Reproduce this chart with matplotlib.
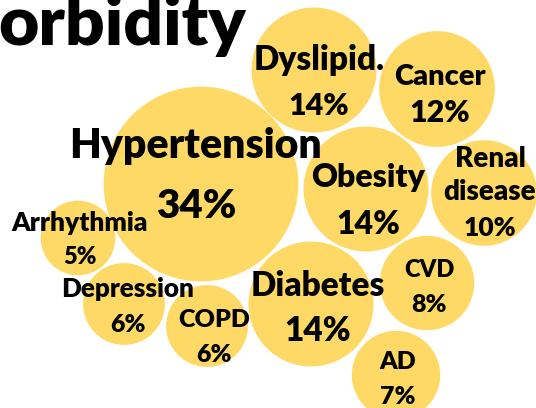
import matplotlib
matplotlib.use("Agg")
import matplotlib.pyplot as plt
from matplotlib.patches import Circle
import numpy as np

# ---- data ----
categories = ["Hypertension", "Dyslipid.", "Cancer", "Renal\ndisease", "Obesity",
              "Diabetes", "CVD", "AD", "Arrhythmia", "Depression", "COPD"]
values = [34, 14, 12, 10, 14, 14, 8, 7, 5, 6, 6]
title_text = "orbidity"

# ---- layout (pixel coordinates, y downward) ----
cx = [201, 314, 437, 484, 366, 311, 427, 396, 78, 124, 207]
cy = [184, 70, 89, 193, 189, 304, 283, 375, 238, 304, 326]
k = 16.7  # radius scale: r = k * sqrt(value)

# label baselines (name lines..., pct line) and x centers
lab_x = [196, 319, 440, 490, 368, 318, 429, 398, 80, 128, 214]
lab_base = [[158, 218], [70, 115], [85, 122], [167, 200, 236], [187, 234],
            [296, 341], [277, 312], [369, 404], [231, 264], [297, 332], [327, 362]]
name_fs = [29.5, 24, 21, 20, 23, 24, 17, 18, 19, 18.8, 18]
pct_fs = [29, 22, 22, 19, 23, 24, 18, 18, 17, 18, 18]

W, H = 536, 408
fig = plt.figure(figsize=(W / 100, H / 100), dpi=100)
ax = fig.add_axes([0, 0, 1, 1])
ax.set_xlim(0, W)
ax.set_ylim(H, 0)
ax.set_aspect("equal")
ax.axis("off")

fill = "#FFD966"
font = ["Lato", "DejaVu Sans"]
wt = "heavy"
for i, cat in enumerate(categories):
    r = k * np.sqrt(values[i])
    ax.add_patch(Circle((cx[i], cy[i]), r, facecolor=fill, edgecolor="none"))

for i, cat in enumerate(categories):
    lines = cat.split("\n")
    for j, ln in enumerate(lines):
        ax.text(lab_x[i], lab_base[i][j], ln, ha="center", va="baseline",
                fontsize=name_fs[i], fontweight=wt, family=font, color="black")
    ax.text(lab_x[i], lab_base[i][-1], f"{values[i]}%", ha="center", va="baseline",
            fontsize=pct_fs[i], fontweight=wt, family=font, color="black")

ax.text(-2, 45, title_text, ha="left", va="baseline", fontsize=50,
        fontweight=wt, family=font, color="black")

fig.savefig("out.png", dpi=100)
